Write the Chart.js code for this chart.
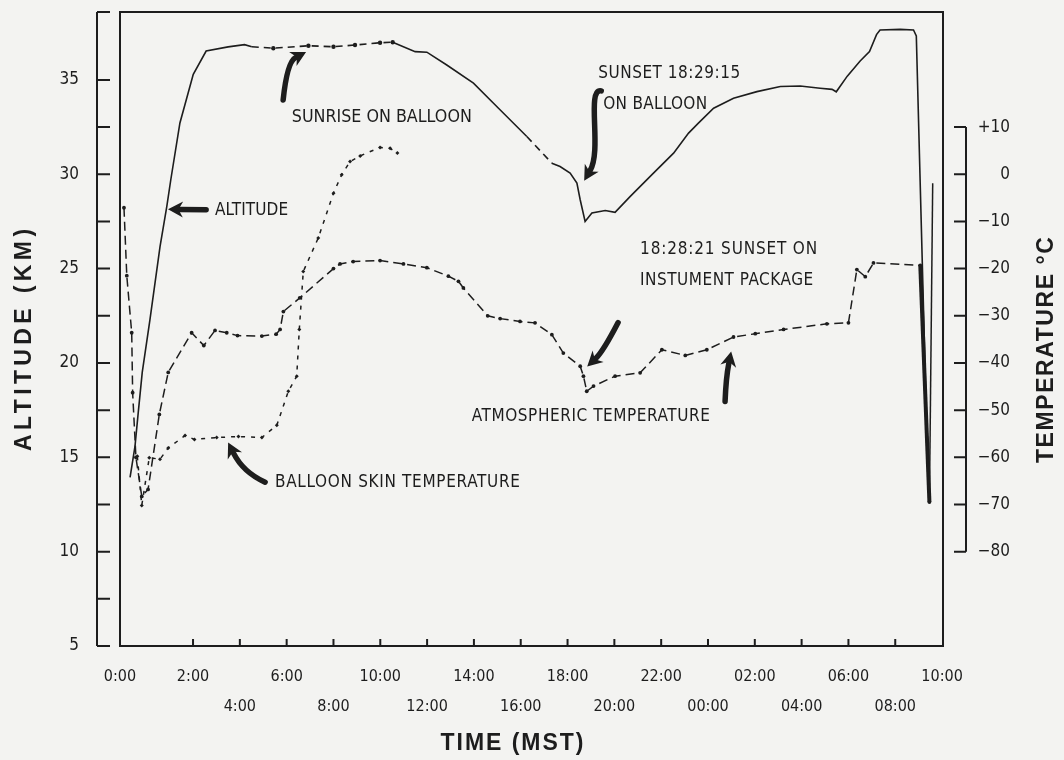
<!DOCTYPE html>
<html>
<head>
<meta charset="utf-8">
<title>Balloon flight - altitude and temperature</title>
<script src="https://cdn.jsdelivr.net/npm/chart.js@4.4.1/dist/chart.umd.min.js"></script>
<style>
  html, body { margin: 0; padding: 0; background: #f3f3f1; }
  #wrap { width: 1064px; height: 760px; }
</style>
</head>
<body>
<div id="wrap"><canvas id="flightChart" width="1064" height="760"></canvas></div>
<script>
// ---- axes ----
const X_MIN = -1.12, X_MAX = 34.04;          // hours after 0:00 on launch day
const KM_MIN = 5, KM_MAX = 38.6;
const degAt = km => 4 * km - 120;           // temperature scale is tied to the altitude scale

const xTickHours = [X_MIN, 2, 4, 6, 8, 10, 12, 14, 16, 18, 20, 22, 24, 26, 28, 30, 32, 34];
const xTickLabels = ['0:00', '2:00', '4:00', '6:00', '8:00', '10:00', '12:00', '14:00', '16:00',
                     '18:00', '20:00', '22:00', '00:00', '02:00', '04:00', '06:00', '08:00', '10:00'];
const kmTicks = [5, 7.5, 10, 12.5, 15, 17.5, 20, 22.5, 25, 27.5, 30, 32.5, 35];
const degTicks = [-80, -70, -60, -50, -40, -30, -20, -10, 0, 10];

// ---- altitude (km) ----
const altHours = [-0.69, -0.48, -0.34, -0.17, 0.16, 0.59, 0.88, 1.05, 1.44, 2.01, 2.56, 3.5, 4.2, 4.51,
  5.43, 6.93, 8.0, 8.92, 9.99, 10.53, 11.49, 11.99, 12.84, 13.98, 15.05, 16.26, 17.33, 17.68, 18.11,
  18.4, 18.54, 18.75, 19.04, 19.61, 20.03, 20.68, 21.67, 22.53, 23.17, 23.59, 24.24, 25.09, 26.09,
  27.09, 27.94, 28.79, 29.3, 29.48, 29.95, 30.5, 30.9, 31.2, 31.35, 32.21, 32.78, 32.9, 33.41];
const altKm = [13.94, 15.58, 17.38, 19.5, 22.3, 26.16, 28.3, 29.71, 32.72, 35.3, 36.53, 36.75, 36.87, 36.76,
  36.68, 36.81, 36.76, 36.85, 36.97, 37.0, 36.5, 36.47, 35.79, 34.83, 33.5, 32.0, 30.59, 30.41, 30.06,
  29.53, 28.65, 27.5, 27.95, 28.08, 27.98, 28.83, 30.06, 31.12, 32.18, 32.71, 33.5, 34.03, 34.38,
  34.65, 34.68, 34.56, 34.5, 34.37, 35.2, 36.0, 36.5, 37.4, 37.65, 37.68, 37.65, 37.33, 13.3];

// ---- atmospheric temperature (deg C) ----
const atmHours = [-0.95, -0.83, -0.62, -0.58, -0.44, -0.19, 0.08, 0.56, 0.94, 1.94, 2.46, 2.94, 3.44, 3.9,
  4.94, 5.55, 5.72, 5.86, 6.56, 8.0, 8.28, 8.84, 9.99, 10.99, 11.99, 12.91, 13.34, 13.55, 14.59, 15.12,
  15.97, 16.61, 17.33, 17.82, 18.54, 18.68, 18.82, 19.11, 20.03, 21.1, 22.03, 23.03, 23.95, 25.09,
  26.02, 27.23, 29.08, 30.0, 30.36, 30.72, 31.07, 33.07, 33.46, 33.6];
const atmTemp = [-7.1, -21.5, -33.6, -46.3, -60.0, -68.3, -66.8, -50.9, -42.0, -33.6, -36.3, -33.1, -33.6, -34.2,
  -34.3, -33.9, -32.9, -29.1, -26.2, -20.0, -19.0, -18.5, -18.3, -19.0, -19.8, -21.6, -22.7, -24.1, -30.0, -30.6,
  -31.2, -31.5, -34.0, -37.9, -40.7, -42.8, -46.0, -44.9, -42.8, -42.1, -37.2, -38.4, -37.2, -34.5,
  -33.8, -32.9, -31.7, -31.5, -20.2, -21.7, -18.8, -19.3, -69.5, -1.9];

// ---- balloon skin temperature (deg C) ----
const skinHours = [-0.38, -0.19, 0.13, 0.59, 0.94, 1.66, 2.06, 3.01, 3.94, 4.94, 5.58, 6.07, 6.43, 6.54,
  6.71, 7.35, 8.0, 8.35, 8.71, 9.14, 9.99, 10.42, 10.73];
const skinTemp = [-59.8, -70.2, -60.1, -60.4, -58.0, -55.4, -56.2, -55.8, -55.6, -55.8, -53.2, -46.0, -42.8, -32.9,
  -20.6, -13.5, -4.0, -0.1, 2.7, 3.9, 5.7, 5.5, 4.5];

// ---- notes and arrows, placed in data units (hours, km) ----
const notes = [
  { text: 'SUNRISE ON BALLOON', h: 6.22, km: 33.02, width: 180, size: 18 },
  { text: 'ALTITUDE', h: 2.94, km: 28.07, width: 73, size: 17 },
  { text: 'SUNSET 18:29:15', h: 19.31, km: 35.34, width: 142, size: 17 },
  { text: 'ON BALLOON', h: 19.52, km: 33.68, width: 104, size: 17 },
  { text: '18:28:21 SUNSET ON', h: 21.1, km: 26.0, width: 177, size: 17 },
  { text: 'INSTUMENT PACKAGE', h: 21.1, km: 24.39, width: 173, size: 17 },
  { text: 'ATMOSPHERIC TEMPERATURE', h: 13.91, km: 17.14, width: 238, size: 17 },
  { text: 'BALLOON SKIN TEMPERATURE', h: 5.5, km: 13.65, width: 245, size: 17 }
];
const arrows = [
  { from: [5.85, 33.94], c1: [6.02, 35.95], to: [6.83, 36.48] },
  { from: [2.56, 28.12], c1: [1.7, 28.13], to: [0.93, 28.15] },
  { from: [19.44, 34.42], c1: [18.79, 34.58], c2: [19.48, 31.3], to: [18.71, 29.66] },
  { from: [20.16, 22.14], c1: [19.52, 20.61], to: [18.84, 19.81] },
  { from: [24.73, 17.96], c1: [24.77, 19.23], to: [24.99, 20.61] },
  { from: [5.08, 13.68], c1: [4.14, 14.21], to: [3.5, 15.79] }
];

const ink = '#1d1d1d';
const FONT = "'DejaVu Sans Condensed', 'Liberation Sans Narrow', Roboto, sans-serif";
const TITLE_FONT = "bold 23px 'Liberation Sans', Arial, sans-serif";

const toPts = (xs, ys) => xs.map((x, i) => ({ x: x, y: ys[i] }));

// text stretched or squeezed to a given width
function spacedText(ctx, text, x, y, width, font, rotate, center) {
  ctx.save();
  ctx.font = font;
  ctx.letterSpacing = '0px';
  const natural = ctx.measureText(text).width;
  const n = text.length;
  let gap = n > 1 ? (width - natural) / (n - 1) : 0;
  let sx = 1;
  if (gap < 0) { sx = width / natural; gap = 0; }
  ctx.letterSpacing = gap.toFixed(2) + 'px';
  ctx.translate(x, y);
  if (rotate) ctx.rotate(rotate);
  ctx.scale(sx, 1);
  ctx.fillStyle = ink;
  ctx.textBaseline = 'middle';
  ctx.textAlign = 'left';
  const start = center ? -(natural + gap * (n - 1)) / 2 : 0;
  ctx.fillText(text, start, 0);
  ctx.restore();
}

function drawArrow(ctx, pts) {
  const p0 = pts.from, tip = pts.to;
  const last = pts.c2 || pts.c1;
  let dx = tip[0] - last[0], dy = tip[1] - last[1];
  const len = Math.hypot(dx, dy) || 1;
  dx /= len; dy /= len;
  const headLen = 15, headHalf = 8;
  const base = [tip[0] - dx * headLen * 0.8, tip[1] - dy * headLen * 0.8];
  ctx.beginPath();
  ctx.moveTo(p0[0], p0[1]);
  if (pts.c2) ctx.bezierCurveTo(pts.c1[0], pts.c1[1], pts.c2[0], pts.c2[1], base[0], base[1]);
  else ctx.quadraticCurveTo(pts.c1[0], pts.c1[1], base[0], base[1]);
  ctx.lineWidth = 5.5;
  ctx.lineCap = 'round';
  ctx.stroke();
  ctx.beginPath();
  ctx.moveTo(tip[0], tip[1]);
  ctx.lineTo(tip[0] - dx * headLen - dy * headHalf, tip[1] - dy * headLen + dx * headHalf);
  ctx.lineTo(tip[0] - dx * headLen * 0.7, tip[1] - dy * headLen * 0.7);
  ctx.lineTo(tip[0] - dx * headLen + dy * headHalf, tip[1] - dy * headLen - dx * headHalf);
  ctx.closePath();
  ctx.fill();
}

const framePlugin = {
  id: 'frame',
  beforeDatasetsDraw(chart) {
    const { ctx, chartArea: a, scales: { x, y, y2 } } = chart;
    ctx.save();
    ctx.strokeStyle = ink;
    ctx.lineWidth = 2;
    ctx.strokeRect(a.left, a.top, a.right - a.left, a.bottom - a.top);

    // altitude bracket on the left
    const lx = a.left - 23;
    ctx.beginPath();
    ctx.moveTo(lx, a.top);
    ctx.lineTo(lx, y.getPixelForValue(KM_MIN));
    [...kmTicks, KM_MAX].forEach(v => {
      const py = y.getPixelForValue(v);
      ctx.moveTo(lx, py);
      ctx.lineTo(lx + 13, py);
    });
    ctx.stroke();

    // temperature bracket on the right
    const rx = a.right + 23;
    ctx.beginPath();
    ctx.moveTo(rx, y2.getPixelForValue(10));
    ctx.lineTo(rx, y2.getPixelForValue(-80));
    degTicks.forEach(v => {
      const py = y2.getPixelForValue(v);
      ctx.moveTo(rx - 12, py);
      ctx.lineTo(rx, py);
    });
    ctx.stroke();

    // time ticks point into the plot
    ctx.beginPath();
    xTickHours.forEach(v => {
      if (v <= X_MIN || v >= 34) return;
      const px = x.getPixelForValue(v);
      ctx.moveTo(px, a.bottom);
      ctx.lineTo(px, a.bottom - 7);
    });
    ctx.stroke();
    ctx.restore();
  },
  afterDatasetsDraw(chart) {
    const { ctx, scales: { x, y } } = chart;
    ctx.save();
    ctx.fillStyle = ink;
    ctx.strokeStyle = ink;
    const px = p => [x.getPixelForValue(p[0]), y.getPixelForValue(p[1])];
    arrows.forEach(ar => {
      drawArrow(ctx, { from: px(ar.from), c1: px(ar.c1), c2: ar.c2 ? px(ar.c2) : null, to: px(ar.to) });
    });
    notes.forEach(n => {
      spacedText(ctx, n.text, x.getPixelForValue(n.h), y.getPixelForValue(n.km), n.width,
        n.size + 'px ' + FONT, 0, false);
    });

    spacedText(ctx, 'ALTITUDE (KM)', 25, 340, 222, TITLE_FONT, -Math.PI / 2, true);
    spacedText(ctx, 'TEMPERATURE \u00B0C', 1047, 350, 226, TITLE_FONT, -Math.PI / 2, true);
    spacedText(ctx, 'TIME (MST)', 512, 744, 143, TITLE_FONT, 0, true);
    ctx.restore();
  }
};

const altDashed = s => {
  const a = s.p0.parsed.x, b = s.p1.parsed.x;
  return (a >= 4.5 && b <= 10.6) || (a >= 16.2 && b <= 17.4);
};

// the frame is drawn by hand, so the scales need no extra room for their end labels
const noEdgePadding = s => {
  s.paddingTop = 0; s.paddingBottom = 0; s.paddingLeft = 0; s.paddingRight = 0;
};

const ctx = document.getElementById('flightChart');
new Chart(ctx, {
  type: 'line',
  data: {
    datasets: [
      {
        label: 'Altitude',
        data: toPts(altHours, altKm),
        yAxisID: 'y',
        borderColor: ink,
        borderWidth: 1.6,
        pointRadius: c => (c.raw && c.raw.x > 4.6 && c.raw.x < 10.6) ? 2.2 : 0,
        pointBackgroundColor: ink,
        pointBorderWidth: 0,
        segment: { borderDash: s => altDashed(s) ? [7, 5] : undefined }
      },
      {
        label: 'Atmospheric temperature',
        data: toPts(atmHours, atmTemp),
        yAxisID: 'y2',
        borderColor: ink,
        borderWidth: 1.5,
        borderDash: [9, 5],
        pointRadius: c => (c.raw && c.raw.x > 33.5) ? 0 : 1.9,
        pointBackgroundColor: ink,
        pointBorderWidth: 0,
        segment: {
          borderWidth: s => (s.p0.parsed.x > 33 && s.p1.parsed.y < s.p0.parsed.y - 20) ? 4 : 1.5,
          borderDash: s => (s.p0.parsed.x > 33) ? [] : undefined
        }
      },
      {
        label: 'Balloon skin temperature',
        data: toPts(skinHours, skinTemp),
        yAxisID: 'y2',
        borderColor: ink,
        borderWidth: 1.5,
        borderDash: [4, 6],
        pointRadius: 2,
        pointStyle: 'rectRot',
        pointBackgroundColor: ink,
        pointBorderWidth: 0
      }
    ]
  },
  options: {
    responsive: false,
    animation: false,
    layout: { autoPadding: false, padding: { top: 12, right: 54, left: 0, bottom: 0 } },
    plugins: { legend: { display: false }, tooltip: { enabled: false } },
    scales: {
      x: {
        type: 'linear',
        min: X_MIN,
        max: X_MAX,
        grid: { display: false },
        border: { display: false },
        afterBuildTicks: s => { s.ticks = xTickHours.map(v => ({ value: v })); },
        afterFit: s => { s.height = 114; noEdgePadding(s); },
        ticks: {
          autoSkip: false,
          maxRotation: 0,
          padding: 8,
          color: ink,
          font: { family: FONT, size: 16, lineHeight: 1.875 },
          callback: (v, i) => {
            const lab = xTickLabels[i];
            return (i >= 2 && i % 2 === 0) ? ['', lab] : [lab, ''];
          }
        }
      },
      y: {
        position: 'left',
        min: KM_MIN,
        max: KM_MAX,
        grid: { display: false },
        border: { display: false },
        afterBuildTicks: s => { s.ticks = kmTicks.map(v => ({ value: v })); },
        afterFit: s => { s.width = 120; noEdgePadding(s); },
        ticks: {
          padding: 33,
          color: ink,
          font: { family: FONT, size: 17 },
          callback: v => (v % 5 === 0 ? String(v) : '')
        }
      },
      y2: {
        position: 'right',
        min: degAt(KM_MIN),
        max: degAt(KM_MAX),
        grid: { display: false },
        border: { display: false },
        afterBuildTicks: s => { s.ticks = degTicks.map(v => ({ value: v })); },
        afterFit: s => { s.width = 67; noEdgePadding(s); },
        ticks: {
          crossAlign: 'far',
          padding: 0,
          color: ink,
          font: { family: FONT, size: 17 },
          callback: v => (v > 0 ? '+' + v : v < 0 ? '\u2212' + (-v) : '0')
        }
      }
    }
  },
  plugins: [framePlugin]
});
</script>
</body>
</html>
